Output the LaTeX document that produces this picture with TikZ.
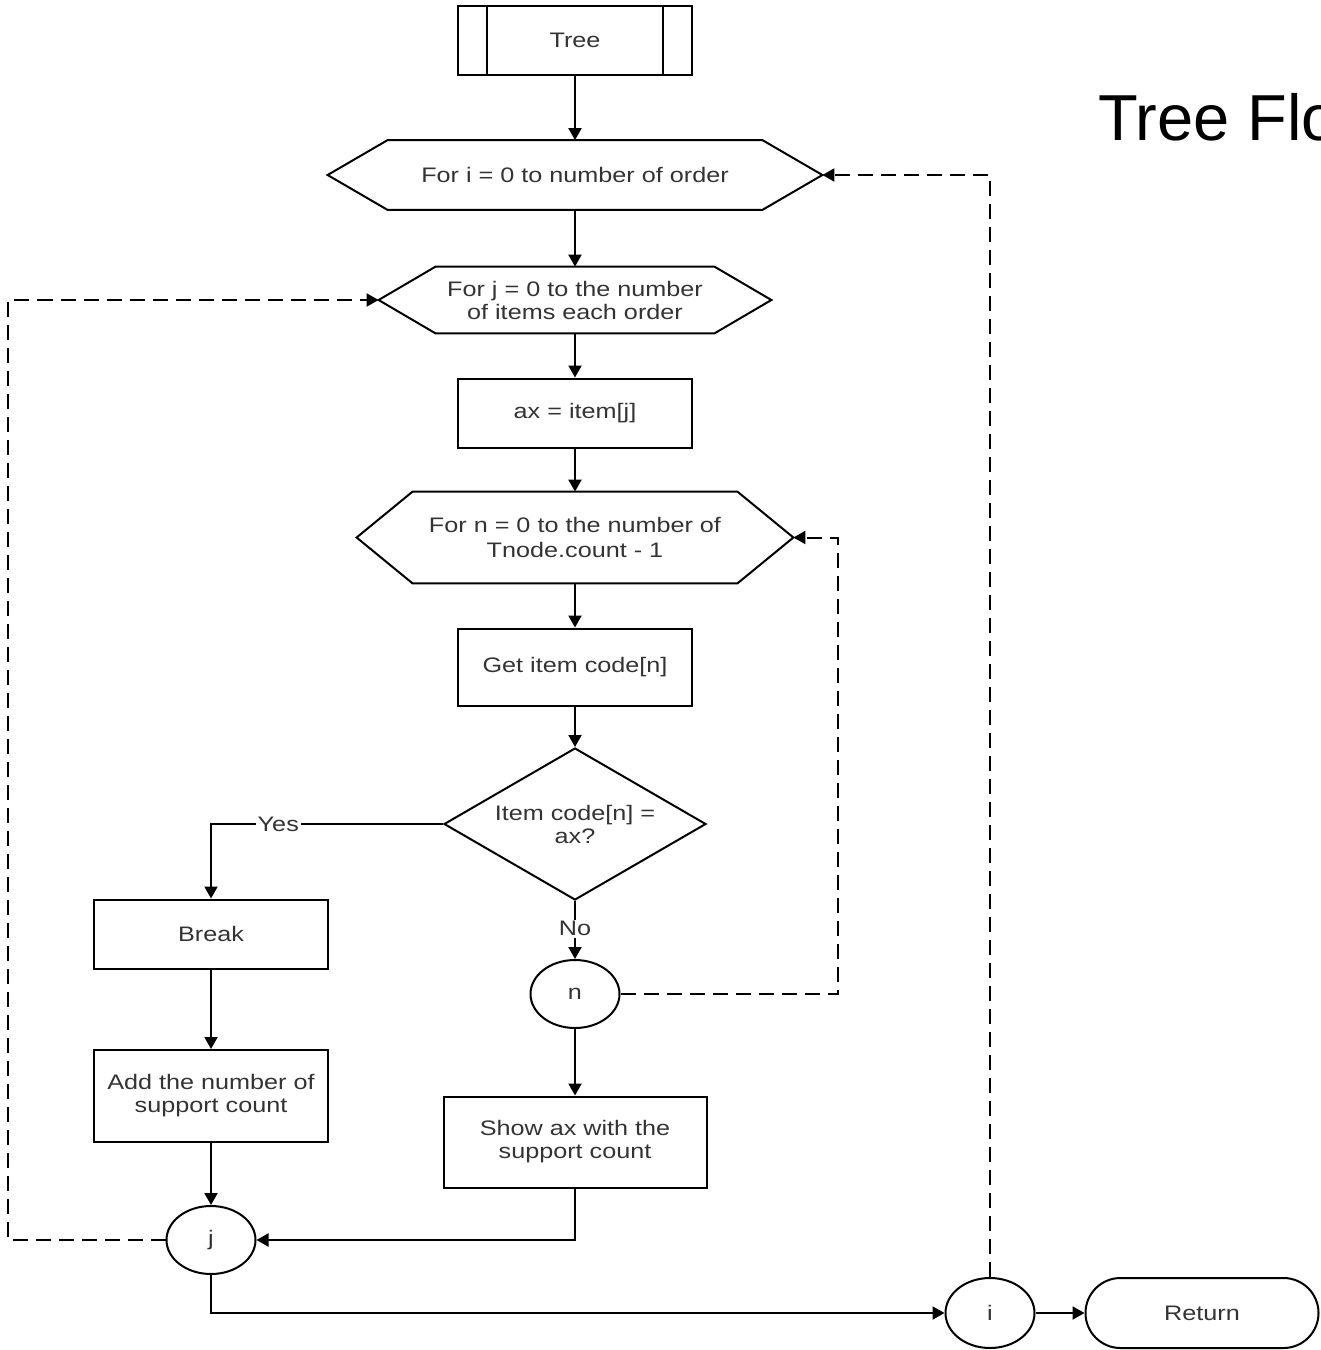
\documentclass[tikz,border=0pt]{standalone}
\usepackage{fontspec}
\setmainfont{Liberation Sans}
\newfontfamily\boxfont[FakeStretch=1.2]{Liberation Sans}
\usetikzlibrary{shapes.geometric,shapes.misc,arrows.meta}

% hexagonal loop box drawn around a text node; #2 is the point depth
\newcommand\drawhex[2]{%
  \draw[line width=1pt] (#1.north west) -- (#1.north east) -- ([xshift=#2]#1.east)
    -- (#1.south east) -- (#1.south west) -- ([xshift=-#2]#1.west) -- cycle;
  \coordinate (#1-l) at ([xshift=-#2]#1.west);
  \coordinate (#1-r) at ([xshift=#2]#1.east);}

\begin{document}
\begin{tikzpicture}[x=0.5pt,y=-0.5pt,
  every node/.style={font=\boxfont\fontsize{10.5}{11.5}\selectfont, text=black!80},
  box/.style={draw, line width=1pt, rectangle, minimum width=117pt,
    minimum height=34.5pt, align=center, inner sep=0pt},
  hexarea/.style={rectangle, align=center, inner sep=0pt},
  joint/.style={draw, line width=1pt, ellipse, minimum width=44.5pt,
    minimum height=34pt, inner sep=0pt},
  flow/.style={line width=1pt, -{Triangle[length=6pt,width=6.5pt]}},
  loop/.style={flow, dashed, dash pattern=on 7.5pt off 4pt},
  tag/.style={fill=white, inner sep=1pt}]

\useasboundingbox (0,0) rectangle (1321,1350);

% title
\node[anchor=base west, inner sep=0pt, text=black,
  font=\fontsize{32.5}{36}\selectfont] (title) at (1098,140) {Tree Flow};

% start: predefined process
\node[box, minimum width=117pt, minimum height=34.5pt] (tree) at (575,40) {Tree};
\draw[line width=1pt] ([xshift=15pt]tree.north west) -- ([xshift=15pt]tree.south west);
\draw[line width=1pt] ([xshift=-15pt]tree.north east) -- ([xshift=-15pt]tree.south east);

% loop headers
\node[hexarea, minimum width=187pt, minimum height=34.5pt] (hi) at (575,175)
  {For i = 0 to number of order};
\drawhex{hi}{30pt}
\node[hexarea, minimum width=139pt, minimum height=33pt] (hj) at (575,300)
  {For j = 0 to the number\\of items each order};
\drawhex{hj}{28.5pt}
\node[box] (ax) at (575,413) {ax = item[j]};
\node[hexarea, minimum width=162pt, minimum height=45.5pt, font=\boxfont\fontsize{10.5}{12.5}\selectfont] (hn) at (575,537.5)
  {For n = 0 to the number of\\Tnode.count - 1};
\drawhex{hn}{28pt}

\node[box, minimum height=38.5pt] (get) at (575,667) {Get item code[n]};
\node[draw, line width=1pt, diamond, aspect=1.72, minimum width=131pt,
  minimum height=76pt, inner sep=0pt, align=center] (dia) at (575,824)
  {Item code[n] =\\ax?};

\node[joint] (cn) at (575,994) {n};
\node[box, minimum width=131.5pt, minimum height=45.5pt] (show) at (575,1142)
  {Show ax with the\\support count};

\node[box] (brk) at (211,934) {Break};
\node[box, minimum height=46pt] (add) at (211,1096)
  {Add the number of\\support count};

\node[joint] (cj) at (211,1240) {j};
\node[joint, minimum height=35pt] (ci) at (990,1313) {i};
\node[draw, line width=1pt, rounded rectangle, minimum width=116.5pt,
  minimum height=35pt, inner sep=0pt] (ret) at (1202,1313) {Return};

% turning points of the loop-back lines
\coordinate (nx) at (838,994);
\coordinate (jx) at (8,1240);

% main flow
\draw[flow] (tree) -- (hi);
\draw[flow] (hi) -- (hj);
\draw[flow] (hj) -- (ax);
\draw[flow] (ax) -- (hn);
\draw[flow] (hn) -- (get);
\draw[flow] (get) -- (dia);
\draw[flow] (dia.west) -| node[tag, pos=0.355] {Yes} (brk.north);
\draw[flow] (dia.south) -- node[tag, pos=0.48] {No} (cn.north);
\draw[flow] (cn) -- (show);
\draw[flow] (brk) -- (add);
\draw[flow] (add) -- (cj);
\draw[flow] (show.south) |- (cj.east);
\draw[flow] (cj.south) |- (ci.west);
\draw[flow] (ci) -- (ret);

% loop-back lines
\draw[loop] (cn.east) -- (nx) |- (hn-r);
\draw[loop] (cj.west) -- (jx) |- (hj-l);
\draw[loop] (ci.north) |- (hi-r);
\end{tikzpicture}
\end{document}
